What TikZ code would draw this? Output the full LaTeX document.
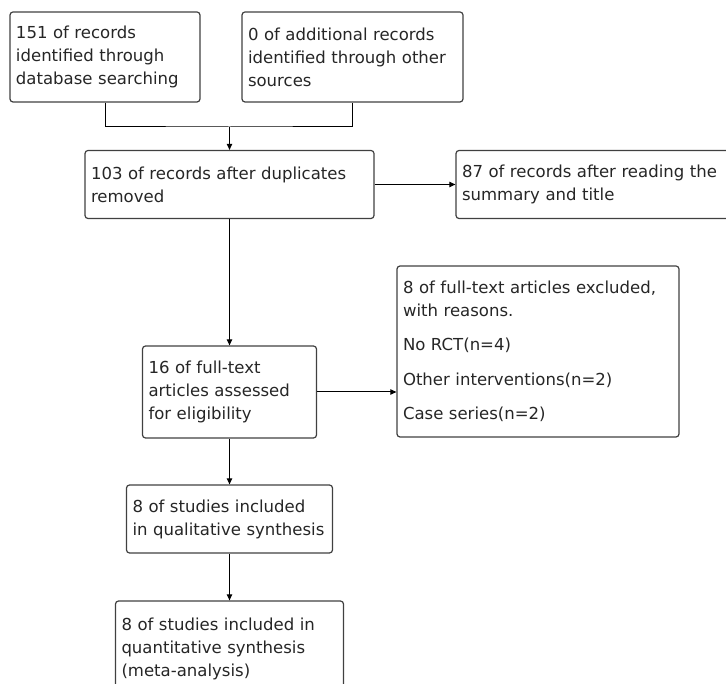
\documentclass[tikz,border=0pt]{standalone}
\usepackage{fontspec}
\setmainfont{DejaVu Sans}
\usetikzlibrary{arrows.meta}

\begin{document}
\begin{tikzpicture}[
  x=0.75pt,y=-0.75pt,
  box/.style={rectangle,draw=black!75,line width=0.9pt,rounded corners=2.25pt,inner xsep=4.5pt,inner ysep=0pt,align=left,text=black!85,font=\fontsize{12.4pt}{17.25pt}\selectfont},
  conn/.style={line width=0.75pt},
  arr/.style={->,>={Triangle[length=4.5pt,width=4pt]},line width=0.75pt},
]
\clip (0,0) rectangle (726,684);

% Sources
\node[box,text width=133.5pt,minimum height=67.5pt] (ident) at (105,57) {151 of records\\identified through\\database searching};
\node[box,text width=156.75pt,minimum height=67.5pt] (other) at (352.5,57) {0 of additional records\\identified through other\\sources};

% Screening
\node[box,text width=207.75pt,minimum height=51pt] (dedup) at (229.5,184.5) {103 of records after duplicates\\removed};
\node[box,text width=208.5pt,minimum height=51pt] (screen) at (601,184.5) {87 of records after reading the\\summary and title};

% Eligibility
\node[box,text width=121.5pt,minimum height=69pt] (full) at (229.5,392) {16 of full-text\\articles assessed\\for eligibility};
\node[box,text width=202.5pt,minimum height=128.25pt] (excl) at (538,351.5) {8 of full-text articles excluded,\\with reasons.\\[8.6pt]No RCT(n=4)\\[8.6pt]Other interventions(n=2)\\[8.6pt]Case series(n=2)};

% Included
\node[box,text width=145.5pt,minimum height=51pt] (qual) at (229.5,519) {8 of studies included\\in qualitative synthesis};
\node[box,text width=162pt,minimum height=71.25pt] (quant) at (229.5,648.5) {8 of studies included in\\quantitative synthesis\\(meta-analysis)};

% Connectors
\coordinate (join) at (229.5,127);
\draw[conn] (ident.south) |- (join) -| (other.south);
\draw[arr] (join) -- (dedup);
\draw[arr] (dedup) -- (screen);
\draw[arr] (dedup) -- (full);
\draw[arr] (full) -- (full -| excl.west);
\draw[arr] (full) -- (qual);
\draw[arr] (qual) -- (quant);

\end{tikzpicture}
\end{document}
